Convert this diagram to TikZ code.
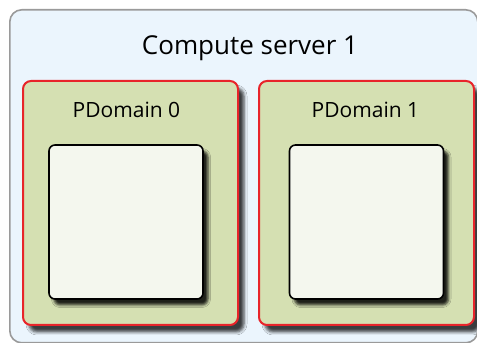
\documentclass[tikz,border=0pt]{standalone}
\usepackage{fontspec}
\setmainfont{Open Sans}
\usetikzlibrary{shadows.blur}
\definecolor{serverfill}{HTML}{EBF5FD}
\definecolor{serverline}{HTML}{9A9A9A}
\definecolor{domainfill}{HTML}{D5E0B2}
\definecolor{domainline}{HTML}{E8242A}
\definecolor{slotfill}{HTML}{F4F7EE}
\tikzset{
  serverbox/.style={draw=serverline, line width=1.6pt, fill=serverfill,
    rounded corners=12pt, inner sep=0pt},
  domainbox/.style={draw=domainline, line width=2pt, fill=domainfill,
    rounded corners=8pt, inner sep=0pt, minimum width=215pt, minimum height=244pt,
    blur shadow={shadow xshift=6pt, shadow yshift=-7pt, shadow blur radius=3pt,
      shadow opacity=75}},
  slotbox/.style={draw=black, line width=1.6pt, fill=slotfill,
    rounded corners=6pt, inner sep=0pt, minimum width=154pt, minimum height=154pt,
    blur shadow={shadow xshift=5pt, shadow yshift=-6pt, shadow blur radius=2.5pt,
      shadow opacity=85}},
  titletext/.style={font=\fontsize{26}{30}\selectfont, anchor=base, inner sep=0pt},
  domaintext/.style={font=\fontsize{21}{25}\selectfont, anchor=base, inner sep=0pt},
}
\begin{document}
\begin{tikzpicture}[x=1pt,y=1pt]
  \useasboundingbox (0,0) rectangle (477,343);
  \clip (0,0) rectangle (477,343);
  \fill[white] (0,0) rectangle (477,343);
  % compute server frame, its right side just at the edge
  \node[serverbox, minimum width=468pt, minimum height=333pt, anchor=north west]
    (server) at (9,334) {};
  \node[titletext] (servertitle) at (250,288) {Compute server 1};
  % physical domains
  \node[domainbox] (pd0) at (130.5,140) {};
  \node[domainbox] (pd1) at (366.5,140) {};
  \node[domaintext] (pd0label) at (126.5,225) {PDomain 0};
  \node[domaintext] (pd1label) at (365.5,225) {PDomain 1};
  % inner slots
  \node[slotbox] (slot0) at (126,121) {};
  \node[slotbox] (slot1) at (366.5,121) {};
\end{tikzpicture}
\end{document}
